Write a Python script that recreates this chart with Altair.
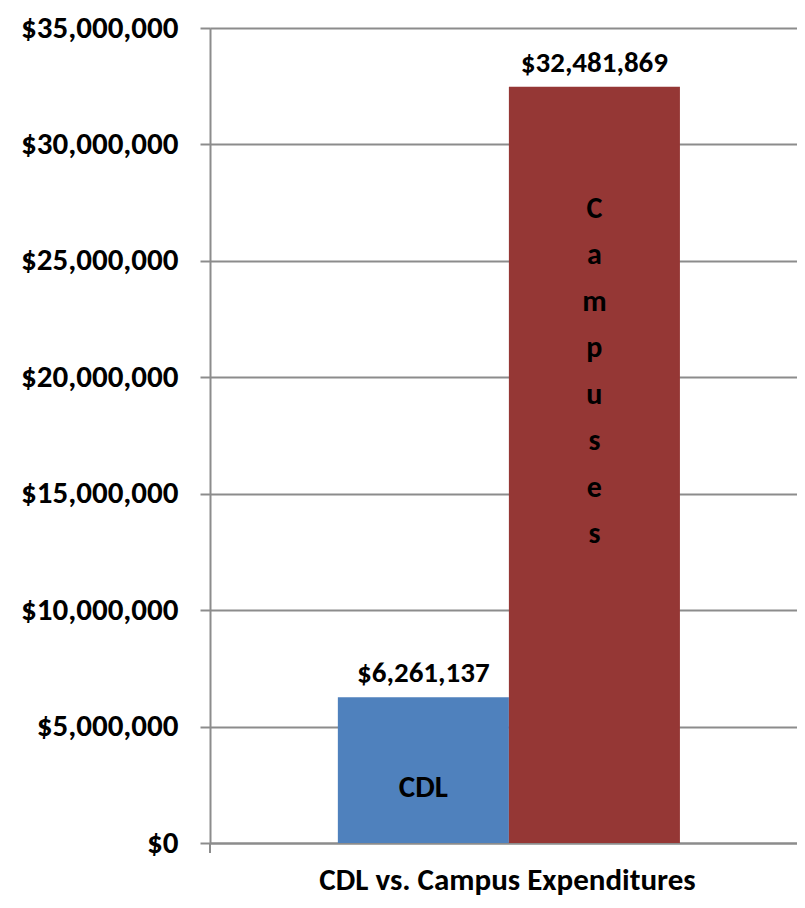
import altair as alt
import pandas as pd

categories = ["CDL", "Campuses"]
values = [6261137, 32481869]
value_labels = ["$6,261,137", "$32,481,869"]
inner_labels = ["CDL", "Campuses"]
colors = ["#4F81BD", "#953735"]
y_ticks = [0, 5000000, 10000000, 15000000, 20000000, 25000000, 30000000, 35000000]

FONT = "Carlito, Calibri, Lato, sans-serif"

df = pd.DataFrame({
    "cat": categories,
    "value": values,
    "vlabel": value_labels,
    "inner": inner_labels,
    "stacked": ["\n".join(list(s)) for s in inner_labels],
})

xscale = alt.Scale(paddingInner=0, paddingOuter=0.716, align=0.522)

x = alt.X("cat:N", sort=categories, scale=xscale,
          axis=alt.Axis(labels=False, ticks=False, domain=True, domainColor="#8c8c8c",
                        domainWidth=2, title="CDL vs. Campus Expenditures",
                        titleFont=FONT, titleFontSize=31, titleFontWeight="bold",
                        titleColor="black", titlePadding=22, titleX=297))
y = alt.Y("value:Q", scale=alt.Scale(domain=[0, 35000000], nice=False),
          axis=alt.Axis(values=y_ticks, format="$,.0f", grid=True, gridColor="#8c8c8c",
                        gridWidth=2, domainColor="#8c8c8c", domainWidth=2,
                        tickColor="#8c8c8c", tickWidth=2, tickSize=10,
                        labelFont=FONT, labelFontSize=31, labelFontWeight="bold",
                        labelColor="black", labelPadding=22, title=None))

base = alt.Chart(df)
xs = alt.X("cat:N", sort=categories, scale=xscale)

bars = base.mark_bar().encode(
    x=x, y=y,
    color=alt.Color("cat:N", sort=categories,
                    scale=alt.Scale(domain=categories, range=colors), legend=None),
)

top_labels = base.mark_text(font=FONT, fontSize=29, fontWeight="bold", color="black",
                            baseline="alphabetic", dy=-15).encode(
    x=xs, y="value:Q", text="vlabel:N")

cdl_label = base.transform_filter(alt.datum.cat == "CDL").mark_text(
    font=FONT, fontSize=31, fontWeight="bold", color="black",
    baseline="alphabetic", dy=100).encode(
    x=xs, y="value:Q", text="inner:N")

camp_label = base.transform_filter(alt.datum.cat == "Campuses").mark_text(
    font=FONT, fontSize=30, fontWeight="bold", color="black",
    baseline="top", lineBreak="\n", lineHeight=46.5, dy=107).encode(
    x=xs, y="value:Q", text="stacked:N")

corner_tick = alt.Chart(df).mark_rule(color="#8c8c8c", strokeWidth=2).encode(
    x=alt.value(0), y=alt.value(815), y2=alt.value(825))

chart = alt.layer(bars, top_labels, cdl_label, camp_label, corner_tick).properties(
    width=587, height=815,
    autosize=alt.AutoSizeParams(type="none"),
    padding={"left": 202, "top": 20, "right": 0, "bottom": 57},
).configure_view(stroke=None).configure(background="white")

chart.save("out.html", embed_options={"renderer": "svg", "actions": False})
